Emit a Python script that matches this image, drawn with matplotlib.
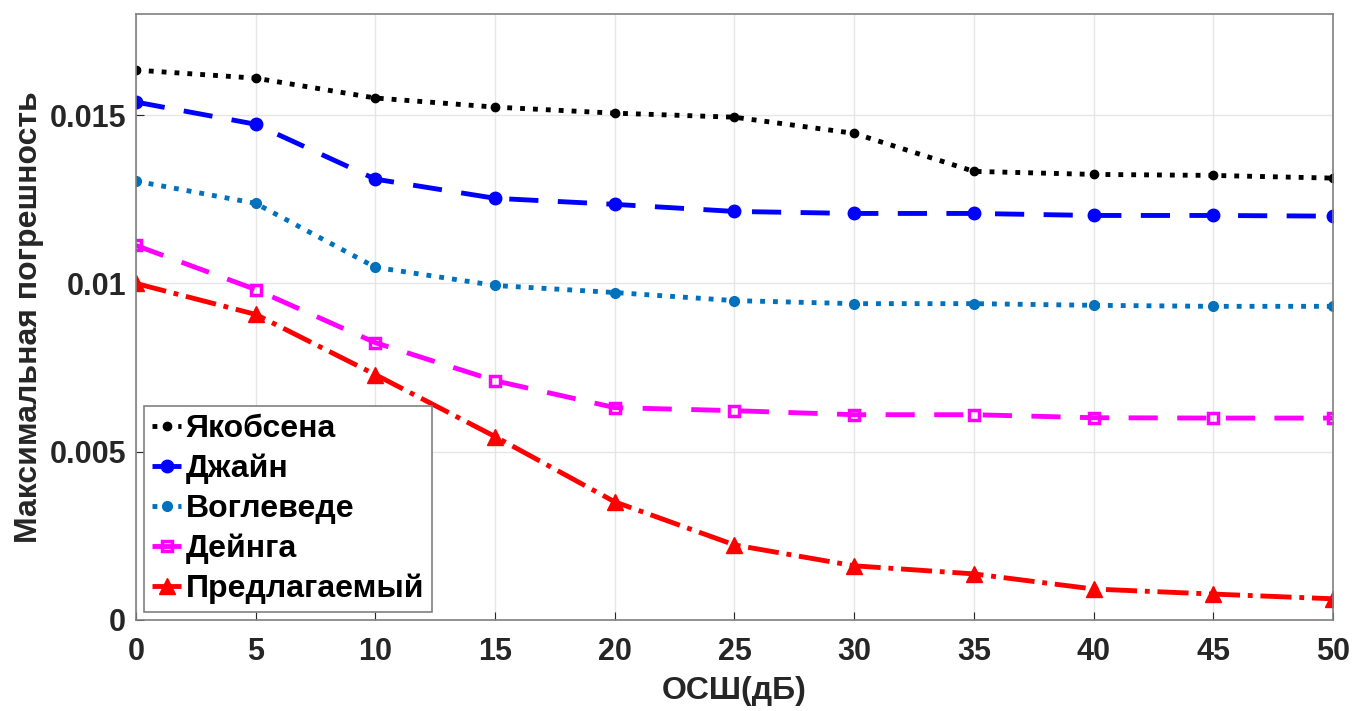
import numpy as np
import matplotlib.pyplot as plt

plt.rcParams['font.family'] = ['Liberation Sans', 'DejaVu Sans']
plt.rcParams['font.weight'] = 'bold'

snr = [0, 5, 10, 15, 20, 25, 30, 35, 40, 45, 50]

jakobsen = [0.01634, 0.0161, 0.01551, 0.01524, 0.01506, 0.01494, 0.01446,
            0.01333, 0.01324, 0.01321, 0.01313]
jain = [0.01539, 0.01473, 0.0131, 0.01253, 0.01235, 0.01214, 0.01208,
        0.01208, 0.01202, 0.01202, 0.012]
voglevede = [0.01304, 0.01238, 0.01048, 0.00994, 0.00973, 0.00949, 0.0094,
             0.0094, 0.00935, 0.00932, 0.00932]
deinga = [0.01113, 0.00982, 0.00824, 0.00711, 0.00631, 0.00622, 0.0061,
          0.0061, 0.00601, 0.006, 0.006]
proposed = [0.0100, 0.00908, 0.00729, 0.00545, 0.00351, 0.00223, 0.00161,
            0.00137, 0.00092, 0.00077, 0.00063]

labels = ['Якобсена', 'Джайн', 'Воглеведе', 'Дейнга', 'Предлагаемый']

fig = plt.figure(figsize=(13.54, 7.11), dpi=100)
ax = fig.add_axes([0.1004, 0.128, 0.8841, 0.852])

ax.plot(snr, jakobsen, ':', color='k', lw=3.5, marker='o', ms=6,
        label=labels[0])
ax.plot(snr, jain, '--', color='#0000ff', lw=3.5, marker='o', ms=9,
        mfc='#0000ff', dashes=(6, 4), label=labels[1])
ax.plot(snr, voglevede, ':', color='#0072bd', lw=3.5, marker='o', ms=7,
        label=labels[2])
ax.plot(snr, deinga, '--', color='#ff00ff', lw=3.5, marker='s', ms=7,
        mfc='none', mew=2.5, dashes=(6, 4), label=labels[3])
ax.plot(snr, proposed, '-.', color='#ff0000', lw=3.5, marker='^', ms=11,
        label=labels[4])

ax.set_xlim(0, 50)
ax.set_ylim(0, 0.018)
ax.set_xticks(np.arange(0, 51, 5))
ax.set_yticks([0, 0.005, 0.01, 0.015])
ax.set_yticklabels(['0', '0.005', '0.01', '0.015'])
ax.tick_params(direction='in', labelsize=22, length=6, colors='#262626',
               labelcolor='#262626')
ax.tick_params(axis='x', pad=12)
ax.tick_params(axis='y', pad=7)
ax.grid(True, color='#e6e6e6', lw=1)
for s in ax.spines.values():
    s.set_color('#808080')
    s.set_linewidth(1.2)

ax.set_xlabel('ОСШ(дБ)', fontsize=23, fontweight='bold', color='#262626',
              labelpad=7)
ax.set_ylabel('Максимальная погрешность', fontsize=23, fontweight='bold',
              color='#262626', labelpad=4)

leg = ax.legend(loc='lower left', bbox_to_anchor=(0.007, 0.013), fontsize=23,
                handlelength=0.9, handletextpad=0.15, borderpad=0.25,
                labelspacing=0.3, fancybox=False, framealpha=1,
                edgecolor='#808080', borderaxespad=0)
leg.get_frame().set_linewidth(1.2)

fig.savefig('out.png', dpi=100)
